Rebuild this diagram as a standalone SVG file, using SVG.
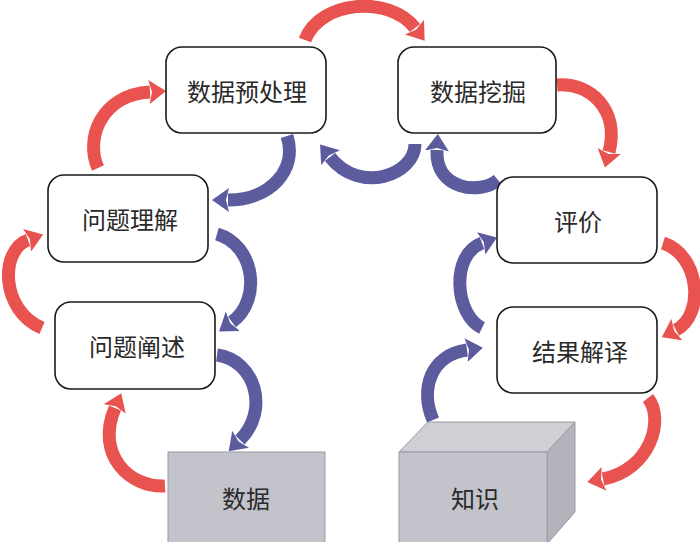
<svg xmlns="http://www.w3.org/2000/svg" width="700" height="542" viewBox="0 0 700 542">
<style>
.box{fill:#fff;stroke:#1a1a1a;stroke-width:1.6}
.lbl{font-family:"Noto Sans CJK SC","Noto Sans",sans-serif;font-size:24px;fill:#2a2a2a;text-anchor:middle;dominant-baseline:central}
.red{fill:none;stroke:#E8524F;stroke-width:13;marker-end:url(#hr)}
.blue{fill:none;stroke:#5B5B9E;stroke-width:13;marker-end:url(#hb)}
.gray{stroke:#9a9aa2;stroke-width:1}
</style>
<defs>
<marker id="hr" viewBox="0 0 17 24" refX="1" refY="12" markerWidth="17" markerHeight="24" markerUnits="userSpaceOnUse" orient="auto"><path d="M0,0 L17,12 L0,24 L3,12 z" fill="#E8524F"/></marker>
<marker id="hb" viewBox="0 0 17 24" refX="1" refY="12" markerWidth="17" markerHeight="24" markerUnits="userSpaceOnUse" orient="auto"><path d="M0,0 L17,12 L0,24 L3,12 z" fill="#5B5B9E"/></marker>
</defs>
<rect width="700" height="542" fill="#fff"/>
<g id="connectors">
<path class="red" d="M42,328 C0,310 0,250 28,240"/>
<path class="red" d="M98,168 C85,140 100,95 150,92"/>
<path class="red" d="M305,40 C320,0 390,-5 415,28"/>
<path class="red" d="M557,85 C590,82 620,110 609,152"/>
<path class="red" d="M663,243 C700,255 705,315 676,330"/>
<path class="red" d="M648,398 C665,420 650,470 603,479"/>
<path class="red" d="M165,486 C130,488 95,455 115,408"/>
<path class="blue" d="M217,355 C255,360 270,410 240,440"/>
<path class="blue" d="M217,234 C255,245 262,300 232,322"/>
<path class="blue" d="M287,136 C298,170 270,200 228,200"/>
<path class="blue" d="M415,144 C415,175 360,195 330,157"/>
<path class="blue" d="M498,180 C480,195 435,190 437,150"/>
<path class="blue" d="M482,328 C455,315 450,255 482,243"/>
<path class="blue" d="M433,420 C420,390 430,355 467,350"/>
</g>
<g id="preprocess"><rect class="box" x="166" y="47" width="160" height="86" rx="16"/><text class="lbl" x="247" y="90">数据预处理</text></g>
<g id="mining"><rect class="box" x="398" y="47" width="158" height="86" rx="16"/><text class="lbl" x="478" y="90">数据挖掘</text></g>
<g id="understand"><rect class="box" x="48" y="175" width="160" height="87" rx="16"/><text class="lbl" x="130" y="218">问题理解</text></g>
<g id="state"><rect class="box" x="55" y="302" width="160" height="87" rx="16"/><text class="lbl" x="137" y="345">问题阐述</text></g>
<g id="evaluate"><rect class="box" x="497" y="177" width="160" height="86" rx="16"/><text class="lbl" x="578" y="220">评价</text></g>
<g id="interpret"><rect class="box" x="497" y="307" width="160" height="86" rx="16"/><text class="lbl" x="580" y="350">结果解译</text></g>
<g id="data"><rect class="gray" x="168" y="452" width="157" height="92" fill="#c3c3cb"/><text class="lbl" x="246" y="497">数据</text></g>
<g id="knowledge">
<polygon class="gray" points="399,452 428,422 575,422 547,452" fill="#cfcfd5"/>
<polygon class="gray" points="547,452 575,422 575,512 547,544" fill="#b3b3bb"/>
<rect class="gray" x="399" y="452" width="148" height="92" fill="#c3c3cb"/>
<text class="lbl" x="475" y="497">知识</text>
</g>
</svg>
